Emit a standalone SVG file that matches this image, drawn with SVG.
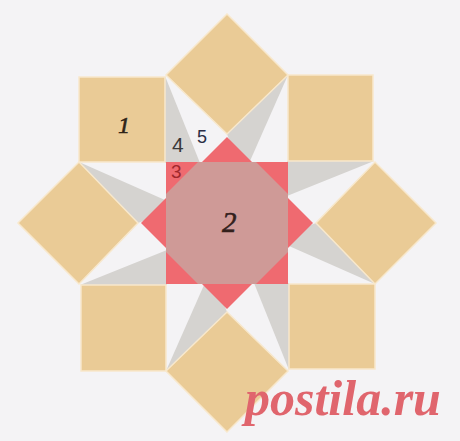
<svg xmlns="http://www.w3.org/2000/svg" width="460" height="441" viewBox="0 0 460 441">
<defs>
<style>
.tan{fill:#eacb96;stroke:#f8e8cc;stroke-width:1.5}
.gray{fill:#d5d3d0}
.red{fill:#ef6a70}
.pink{fill:#cf9a97}
.lbl{font-family:"Liberation Sans",Arial,sans-serif}
.ital{font-family:"Liberation Serif","Times New Roman",serif;font-style:italic;stroke-width:0.6}
</style>
<polygon id="g1" class="gray" points="165,76 165,163 200,163"/>
<polygon id="g2" class="gray" points="288,75 227,134 235,155 250,161"/>
<rect id="sq" class="tan" x="79" y="77" width="86" height="85"/>
<polygon id="dm" class="tan" points="227,14 288,75 227,134 166,75"/>
</defs>
<rect width="460" height="441" fill="#f4f3f5"/>
<g id="star-points">
<use href="#g1"/><use href="#g1" transform="rotate(90 227 223)"/><use href="#g1" transform="rotate(180 227 223)"/><use href="#g1" transform="rotate(270 227 223)"/>
<use href="#g2"/><use href="#g2" transform="rotate(90 227 223)"/><use href="#g2" transform="rotate(180 227 223)"/><use href="#g2" transform="rotate(270 227 223)"/>
</g>
<g id="square-tl"><use href="#sq"/></g>
<g id="square-tr"><use href="#sq" transform="rotate(90 227 223)"/></g>
<g id="square-br"><use href="#sq" transform="rotate(180 227 223)"/></g>
<g id="square-bl"><use href="#sq" transform="rotate(270 227 223)"/></g>
<g id="diamond-top"><use href="#dm"/></g>
<g id="diamond-right"><use href="#dm" transform="rotate(90 227 223)"/></g>
<g id="diamond-bottom"><use href="#dm" transform="rotate(180 227 223)"/></g>
<g id="diamond-left"><use href="#dm" transform="rotate(270 227 223)"/></g>
<g id="center">
<rect class="red" x="166" y="162" width="122" height="122"/>
<polygon class="red" points="227,137 313,223 227,309 141,223"/>
<polygon class="pink" points="198,162 256,162 288,194 288,252 256,284 198,284 166,252 166,194"/>
</g>
<g id="labels">
<text class="ital" x="118" y="133" font-size="24" fill="#2e2418" stroke="#2e2418">1</text>
<text class="ital" x="222" y="232" font-size="29" fill="#33201c" stroke="#33201c">2</text>
<text class="lbl" x="171" y="178" font-size="19" fill="#a0282c">3</text>
<text class="lbl" x="172" y="152" font-size="21" fill="#3a3a3a">4</text>
<text class="lbl" x="197" y="143" font-size="18" fill="#2b2d45">5</text>
</g>
<text x="245" y="415" font-family="'Liberation Serif','Times New Roman',serif" font-style="italic" font-weight="bold" font-size="50" fill="#e0656d">postila.ru</text>
</svg>
